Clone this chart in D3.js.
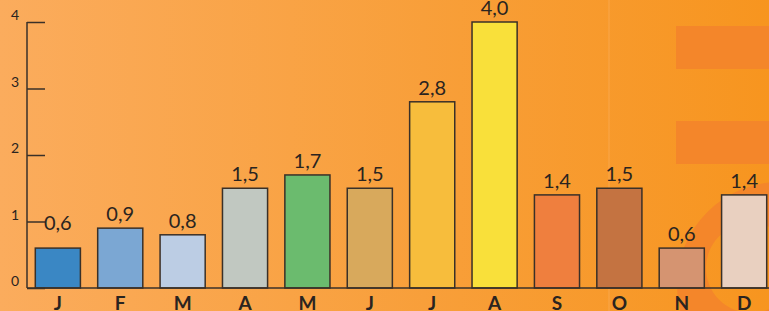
<!DOCTYPE html>
<html>
<head>
<meta charset="utf-8">
<script src="https://cdn.jsdelivr.net/npm/d3@7"></script>
<style>
  body { margin: 0; overflow: hidden; }
  text { font-family: Lato, "Open Sans", sans-serif; fill: #2a2420; }
</style>
</head>
<body>
<script>
var svgWidth = 769;
var svgHeight = 311;

var months = ["J", "F", "M", "A", "M", "J", "J", "A", "S", "O", "N", "D"];
var values = [0.6, 0.9, 0.8, 1.5, 1.7, 1.5, 2.8, 4.0, 1.4, 1.5, 0.6, 1.4];
var barColors = ["#3a87c4", "#7ba7d3", "#bccde4", "#c1c8c1", "#6bbb6e", "#d8a95c",
                 "#f7bd3c", "#f9e03a", "#ef7f3e", "#c47341", "#d59471", "#e9d0c0"];
var yTicks = [0, 1, 2, 3, 4];

var axisX = 27;
var baseY = 288;
var topY = 22;

var svg = d3.select("body")
            .append("svg")
            .attr("width", svgWidth)
            .attr("height", svgHeight);

var defs = svg.append("defs");
var grad = defs.append("linearGradient")
               .attr("id", "bg")
               .attr("x1", "0").attr("x2", "1").attr("y1", "0").attr("y2", "0");
grad.append("stop").attr("offset", "0%").attr("stop-color", "#fbac5d");
grad.append("stop").attr("offset", "55%").attr("stop-color", "#f89f3a");
grad.append("stop").attr("offset", "100%").attr("stop-color", "#f7951f");

svg.append("rect")
   .attr("width", svgWidth)
   .attr("height", svgHeight)
   .attr("fill", "url(#bg)");

// decorative background shapes
var deco = svg.append("g").attr("fill", "#f4862a");
deco.append("rect").attr("x", 676).attr("y", 26).attr("width", 100).attr("height", 43);
deco.append("rect").attr("x", 676).attr("y", 121).attr("width", 100).attr("height", 43);
var ring = d3.path();
ring.moveTo(780 + 103, 285);
ring.arc(780, 285, 103, 0, 2 * Math.PI);
ring.moveTo(751 + 45, 268);
ring.arc(751, 268, 45, 0, 2 * Math.PI);
deco.append("path").attr("d", ring.toString()).attr("fill-rule", "evenodd");
svg.append("line")
   .attr("x1", 609).attr("x2", 609).attr("y1", 0).attr("y2", svgHeight)
   .attr("stroke", "#fbb060").attr("stroke-width", 1).attr("opacity", 0.6);

var xScale = d3.scaleBand()
               .domain(d3.range(months.length))
               .range([axisX, svgWidth + 6])
               .paddingInner(0.277)
               .paddingOuter(0.133);

var yScale = d3.scaleLinear()
               .domain([0, 4])
               .range([baseY, topY]);

// bars
svg.append("g")
   .selectAll("rect")
   .data(values)
   .enter()
   .append("rect")
   .attr("x", (d, i) => xScale(i))
   .attr("y", d => yScale(d))
   .attr("width", xScale.bandwidth())
   .attr("height", d => baseY - yScale(d))
   .attr("fill", (d, i) => barColors[i])
   .attr("stroke", "#3a3028")
   .attr("stroke-width", 1.5);

// value labels (the first one sits a bit higher in the original)
svg.append("g")
   .selectAll("text")
   .data(values)
   .enter()
   .append("text")
   .attr("x", (d, i) => xScale(i) + xScale.bandwidth() / 2)
   .attr("y", (d, i) => yScale(d) - (i === 0 ? 18 : 7))
   .attr("text-anchor", "middle")
   .style("font-size", "20px")
   .text(d => d.toFixed(1).replace(".", ","));

// y axis
var leftAxis = d3.axisRight(yScale)
                 .tickValues(yTicks)
                 .tickSize(18)
                 .tickFormat("");
var yAxis = svg.append("g")
               .attr("transform", `translate(${axisX}, 0)`)
               .call(leftAxis);
yAxis.select(".domain").remove();
yAxis.selectAll("line").attr("stroke", "#3a3028").attr("stroke-width", 1.5);
svg.append("line")
   .attr("x1", axisX).attr("x2", axisX)
   .attr("y1", topY).attr("y2", baseY)
   .attr("stroke", "#3a3028").attr("stroke-width", 1.5);

svg.append("g")
   .selectAll("text")
   .data(yTicks)
   .enter()
   .append("text")
   .attr("x", 15)
   .attr("y", d => yScale(d) - 2)
   .attr("text-anchor", "middle")
   .style("font-size", "14px")
   .text(d => d);

// baseline
svg.append("line")
   .attr("x1", axisX).attr("x2", svgWidth)
   .attr("y1", baseY).attr("y2", baseY)
   .attr("stroke", "#3a3028").attr("stroke-width", 1.5);

// month labels
svg.append("g")
   .selectAll("text")
   .data(months)
   .enter()
   .append("text")
   .attr("x", (d, i) => xScale(i) + xScale.bandwidth() / 2)
   .attr("y", 310)
   .attr("text-anchor", "middle")
   .style("font-size", "19px")
   .style("font-weight", "bold")
   .text(d => d);
</script>
</body>
</html>
